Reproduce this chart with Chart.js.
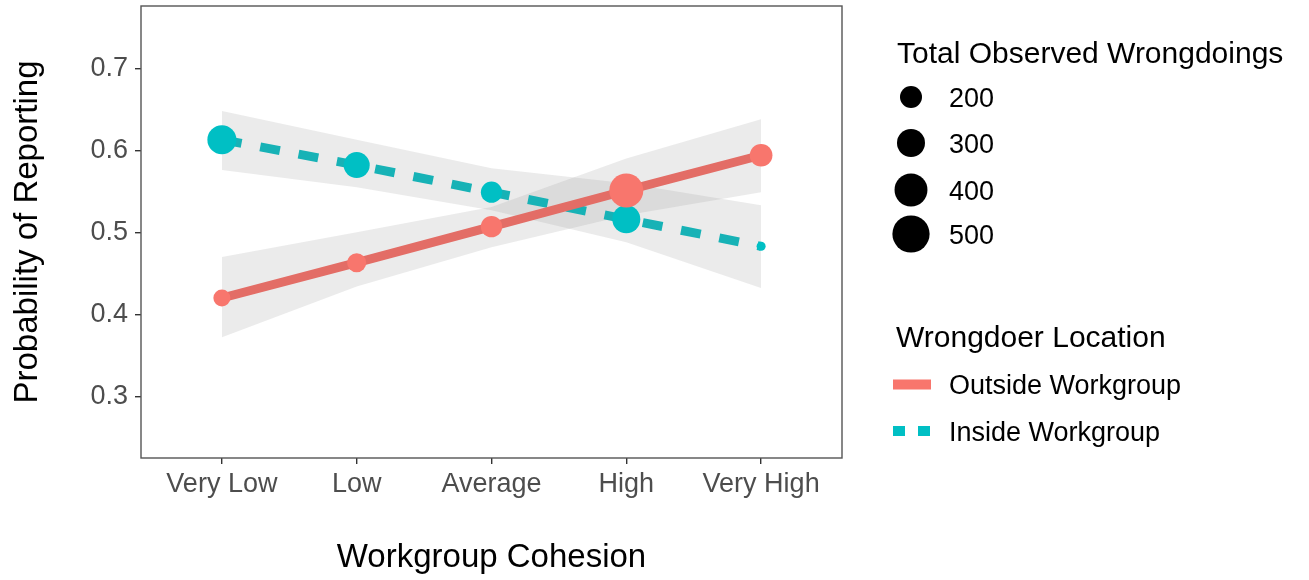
<!DOCTYPE html>
<html>
<head>
<meta charset="utf-8">
<script src="https://cdn.jsdelivr.net/npm/chart.js@4.4.1/dist/chart.umd.min.js"></script>
<style>
  html, body { margin: 0; padding: 0; background: #ffffff; }
  canvas { display: block; }
</style>
</head>
<body>
<canvas id="chart" width="1309" height="580" style="width:1309px;height:580px"></canvas>
<script>
// Workgroup cohesion levels (x axis)
const cohesionLevels = ['Very Low', 'Low', 'Average', 'High', 'Very High'];

// Predicted probability of reporting, by wrongdoer location
const outsideProb = [0.420, 0.463, 0.507, 0.551, 0.594];
const insideProb  = [0.613, 0.582, 0.549, 0.516, 0.483];

// Confidence bands
const outsideLower = [0.372, 0.434, 0.482, 0.521, 0.549];
const outsideUpper = [0.470, 0.500, 0.531, 0.590, 0.638];
const insideLower  = [0.576, 0.555, 0.527, 0.488, 0.432];
const insideUpper  = [0.648, 0.613, 0.578, 0.560, 0.533];

// Total observed wrongdoings at each level (point size)
const outsideCount = [135, 160, 190, 425, 210];
const insideCount  = [320, 265, 190, 300, 66];

// Size legend breaks and y tick values
const countBreaks = [200, 300, 400, 500];
const probTicks = [0.3, 0.4, 0.5, 0.6, 0.7];

const FONT = "'Liberation Sans', Arial, Helvetica, sans-serif";
const RED = '#F8766D', RED_LINE = '#E36D66';
const TEAL = '#00BFC4', TEAL_LINE = '#17B2B6';
const BAND = 'rgba(153,153,153,0.2)';
const DASH = [20, 19];

// point area grows linearly with the count
const sizeFor = n => Math.sqrt(Math.max(0.75 * n - 29, 4));

const xy = arr => arr.map((v, i) => ({ x: i, y: v }));

const bandSet = (data, fill) => ({
  data: xy(data), showLine: true, borderWidth: 0, pointRadius: 0,
  borderColor: 'rgba(0,0,0,0)', backgroundColor: BAND, fill: fill, order: 3, tension: 0
});
const lineSet = (data, color, dash) => ({
  data: xy(data), showLine: true, borderColor: color, borderWidth: 9,
  borderDash: dash, borderCapStyle: 'butt', pointRadius: 0, fill: false, order: 2, tension: 0
});
const pointSet = (data, counts, color) => ({
  data: xy(data), showLine: false, pointRadius: counts.map(sizeFor),
  pointBackgroundColor: color, pointBorderWidth: 0, pointHoverRadius: counts.map(sizeFor),
  fill: false, order: 1
});

// panel frame on all four sides
const framePlugin = {
  id: 'frame',
  afterDatasetsDraw(chart) {
    const { ctx, chartArea: a } = chart;
    ctx.save();
    ctx.strokeStyle = '#555555';
    ctx.lineWidth = 1.4;
    ctx.strokeRect(a.left, a.top, a.right - a.left, a.bottom - a.top);
    ctx.restore();
  }
};

// two-part legend: size of points and line type per location
const legendPlugin = {
  id: 'sideLegend',
  afterDraw(chart) {
    const ctx = chart.ctx;
    ctx.save();
    ctx.fillStyle = '#000000';
    ctx.textAlign = 'left';
    ctx.textBaseline = 'alphabetic';

    ctx.font = `30px ${FONT}`;
    ctx.fillText('Total Observed Wrongdoings', 897, 63);
    const rows = [97, 143, 190, 234];
    ctx.font = `27px ${FONT}`;
    countBreaks.forEach((n, i) => {
      ctx.beginPath();
      ctx.arc(911, rows[i], sizeFor(n), 0, Math.PI * 2);
      ctx.fill();
      ctx.fillText(String(n), 949, rows[i] + 9.7);
    });

    ctx.font = `30px ${FONT}`;
    ctx.fillText('Wrongdoer Location', 896, 347);

    ctx.lineWidth = 10;
    ctx.lineCap = 'butt';
    ctx.strokeStyle = RED;
    ctx.beginPath(); ctx.moveTo(893, 384.5); ctx.lineTo(931, 384.5); ctx.stroke();
    ctx.strokeStyle = TEAL;
    ctx.setLineDash([12, 13]);
    ctx.beginPath(); ctx.moveTo(893, 431); ctx.lineTo(931, 431); ctx.stroke();
    ctx.setLineDash([]);

    ctx.font = `27px ${FONT}`;
    ctx.fillText('Outside Workgroup', 949, 394);
    ctx.fillText('Inside Workgroup', 949, 441);
    ctx.restore();
  }
};

new Chart(document.getElementById('chart'), {
  type: 'scatter',
  data: {
    datasets: [
      bandSet(outsideLower, false),
      bandSet(outsideUpper, '-1'),
      bandSet(insideLower, false),
      bandSet(insideUpper, '-1'),
      lineSet(outsideProb, RED_LINE, []),
      lineSet(insideProb, TEAL_LINE, DASH),
      pointSet(outsideProb, outsideCount, RED),
      pointSet(insideProb, insideCount, TEAL)
    ]
  },
  options: {
    responsive: false,
    animation: false,
    events: [],
    layout: { autoPadding: false, padding: { left: 0, top: 6, right: 467, bottom: 0 } },
    plugins: { legend: { display: false }, tooltip: { enabled: false } },
    scales: {
      x: {
        type: 'linear',
        min: -0.6, max: 4.6,
        afterBuildTicks: s => { s.ticks = cohesionLevels.map((_, i) => ({ value: i })); },
        afterFit: s => { s.height = 122; s.paddingLeft = 0; s.paddingRight = 0; },
        border: { display: false },
        grid: { drawOnChartArea: false, drawTicks: true, tickLength: 6, color: '#333333', lineWidth: 1.4 },
        ticks: {
          callback: v => cohesionLevels[v],
          color: '#4D4D4D', font: { family: FONT, size: 27 }, padding: 4, maxRotation: 0
        },
        title: {
          display: true, text: 'Workgroup Cohesion', color: '#000000',
          font: { family: FONT, size: 33 }, padding: { top: 0, bottom: 2 }
        }
      },
      y: {
        type: 'linear',
        min: 0.225, max: 0.7759,
        afterBuildTicks: s => { s.ticks = probTicks.map(v => ({ value: v })); },
        afterFit: s => { s.width = 141; s.paddingTop = 0; s.paddingBottom = 0; },
        border: { display: false },
        grid: { drawOnChartArea: false, drawTicks: true, tickLength: 6, color: '#333333', lineWidth: 1.4 },
        ticks: {
          callback: v => v.toFixed(1),
          color: '#4D4D4D', font: { family: FONT, size: 27 }, padding: 7
        },
        title: {
          display: true, text: 'Probability of Reporting', color: '#000000',
          font: { family: FONT, size: 33 }, padding: { top: 8, bottom: 0 }
        }
      }
    }
  },
  plugins: [framePlugin, legendPlugin]
});
</script>
</body>
</html>
